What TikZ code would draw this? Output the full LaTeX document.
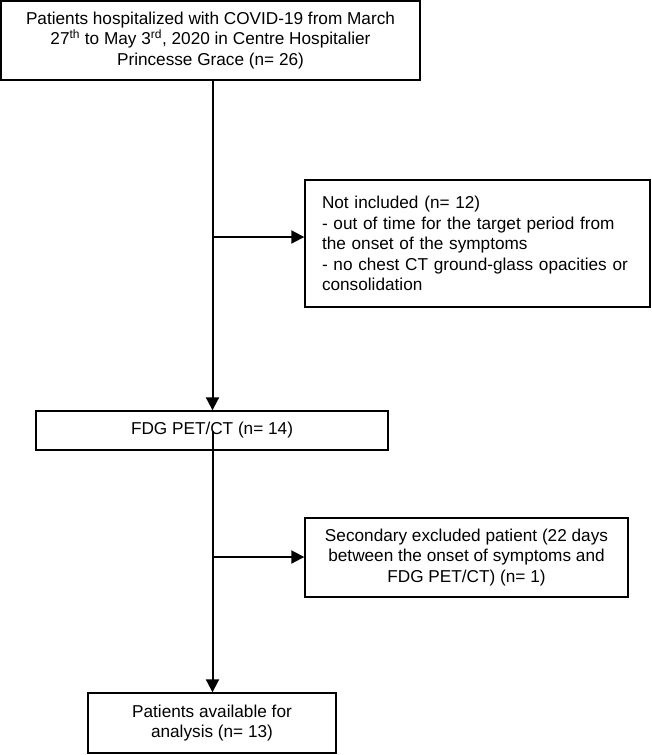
\documentclass[tikz,border=0pt]{standalone}
\usepackage{fontspec}
\setmainfont{Liberation Sans}
\usetikzlibrary{arrows.meta}
\tikzset{
  flowbox/.style={draw, line width=1.4pt, inner sep=0pt, align=center},
  flowarrow/.style={line width=2pt, -{Triangle[length=13pt,width=13pt]}},
}
\begin{document}
\begin{tikzpicture}[x=1pt, y=-1pt, font=\fontsize{17.2}{20.5}\selectfont]
% page has the size of the original figure
    \useasboundingbox (0,0) rectangle (651,755);

% x position of the main vertical line
    \def\mainx{212.5}

% boxes of the main path
    \node[flowbox, minimum width=419pt, minimum height=79pt] (cohort) at (210.5,40.5)
        {Patients hospitalized with COVID-19 from March\\
         27\textsuperscript{th} to May 3\textsuperscript{rd}, 2020 in Centre Hospitalier\\
         Princesse Grace (n= 26)};
    \node[flowbox, minimum width=352pt, minimum height=39pt] (petct) at (212,430.5)
        {FDG PET/CT (n= 14)};
    \node[flowbox, minimum width=248pt, minimum height=60pt] (analysed) at (212,723)
        {Patients available for\\ analysis (n= 13)};

% boxes of the excluded patients
    \node[flowbox, align=left, text width=311pt, inner xsep=17pt,
          minimum width=345pt, minimum height=127pt] (notincl) at (477.5,243.5)
        {Not included (n= 12)\\
         - out of time for the target period from\\
         the onset of the symptoms\\
         - no chest CT ground-glass opacities or\\
         consolidation};
    \node[flowbox, minimum width=323pt, minimum height=79pt] (excluded) at (466.5,557.5)
        {Secondary excluded patient (22 days\\
         between the onset of symptoms and\\
         FDG PET/CT) (n= 1)};

% branch points on the vertical lines
    \coordinate (split1) at (\mainx,237);
    \coordinate (split2) at (\mainx,557);

% vertical arrows
    \draw[flowarrow] (cohort.south -| split1) -- (split1 |- petct.north);
    \draw[flowarrow] (petct.center -| split2) -- (split2 |- analysed.north);

% side arrows
    \draw[flowarrow] (split1) -- (split1 -| notincl.west);
    \draw[flowarrow] (split2) -- (split2 -| excluded.west);

\end{tikzpicture}
\end{document}
